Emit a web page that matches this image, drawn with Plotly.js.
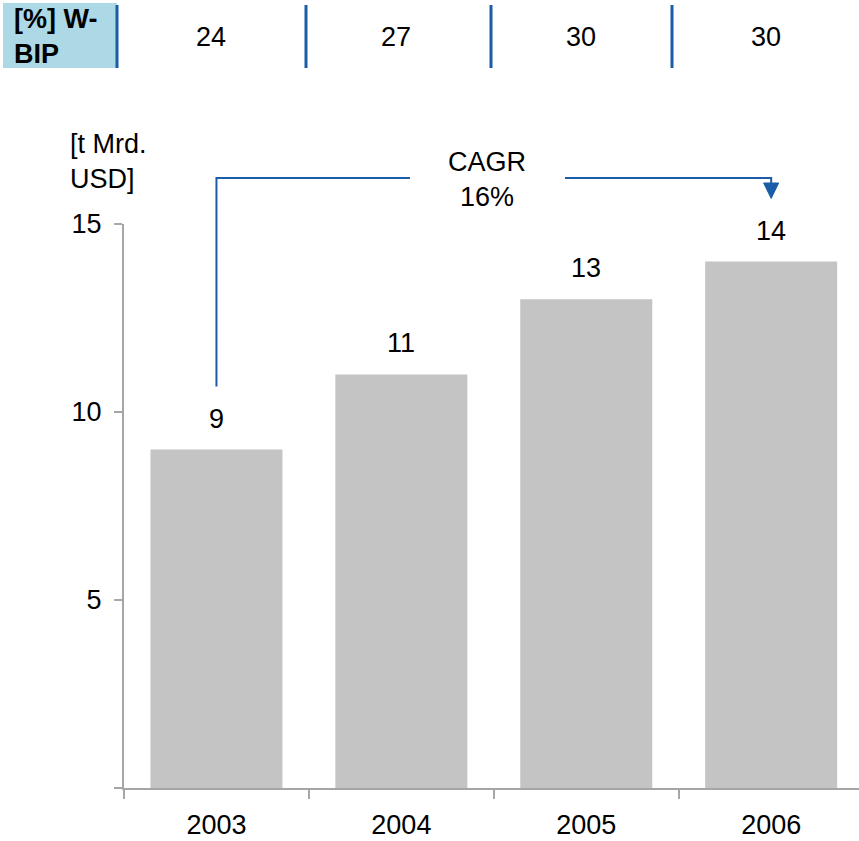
<!DOCTYPE html>
<html>
<head>
<meta charset="utf-8">
<script src="https://cdn.plot.ly/plotly-3.0.1.min.js"></script>
<style>html,body{margin:0;padding:0;background:#fff;}#chart{width:859px;height:841px;}</style>
</head>
<body>
<div id="chart"></div>
<script>
// ---- data ----
const years = ['2003', '2004', '2005', '2006'];
const values = [9, 11, 13, 14];
const valueLabels = ['9', '11', '13', '14'];
const shareOfGdp = ['24', '27', '30', '30'];
const shareLabel = '[%] W-<br>BIP';
const yTickVals = [0, 5, 10, 15];
const yTickText = ['', '5', '10', '15'];
const unitLabel = '[t Mrd.<br>USD]';
const cagrLabel = 'CAGR<br>16%';

// ---- layout helpers ----
const W = 859, H = 841;
const M = {l: 124, r: 0, t: 224, b: 53};
const xRange = [-0.5, 3.475];
const yRange = [0, 15];
const plotW = W - M.l - M.r, plotH = H - M.t - M.b;
const px = x => (x - M.l) / plotW;            // pixel -> paper x
const py = y => (H - M.b - y) / plotH;         // pixel -> paper y
const dx = i => (i - xRange[0]) / (xRange[1] - xRange[0]); // category index -> paper x
const dy = v => (v - yRange[0]) / (yRange[1] - yRange[0]); // value -> paper y

const FONT = 'Liberation Sans, Arial, sans-serif';
const FS = 27;
const BLUE = '#1a5ca8';
const GRAY = '#a6a6a6';

const shapes = [];
const annotations = [];

// Top row: header box
shapes.push({type: 'rect', xref: 'paper', yref: 'paper',
  x0: px(3), x1: px(117), y0: py(68), y1: py(3),
  fillcolor: '#add8e6', line: {width: 0}, layer: 'below'});
annotations.push({xref: 'paper', yref: 'paper', x: px(12), y: py(36),
  xanchor: 'left', yanchor: 'middle', align: 'left', showarrow: false,
  text: '<b>' + shareLabel + '</b>', font: {family: FONT, size: FS, color: '#000'}});
// separators
[117, 306, 491, 672].forEach(xp => {
  shapes.push({type: 'line', xref: 'paper', yref: 'paper',
    x0: px(xp), x1: px(xp), y0: py(68), y1: py(5),
    line: {color: BLUE, width: 3}});
});
// values in top row
years.forEach((yr, i) => {
  annotations.push({xref: 'x', yref: 'paper', x: i, y: py(37), xshift: -5,
    xanchor: 'center', yanchor: 'middle', showarrow: false,
    text: shareOfGdp[i], font: {family: FONT, size: FS, color: '#000'}});
});

// bar value labels
years.forEach((yr, i) => {
  annotations.push({xref: 'x', yref: 'y', x: i, y: values[i], yshift: 14,
    xanchor: 'center', yanchor: 'bottom', showarrow: false,
    text: valueLabels[i], font: {family: FONT, size: FS, color: '#000'}});
});

// unit label
annotations.push({xref: 'paper', yref: 'paper', x: px(68), y: py(161),
  xanchor: 'left', yanchor: 'middle', align: 'left', showarrow: false,
  text: unitLabel, font: {family: FONT, size: FS, color: '#000'}});

// CAGR bracket
const off = 1.68;
const lineY = py(178);
const first = 0, last = years.length - 1;
shapes.push({type: 'path', xref: 'paper', yref: 'paper',
  path: `M ${dx(first)} ${dy(values[first] + off)} L ${dx(first)} ${lineY} L ${px(410)} ${lineY}`,
  line: {color: BLUE, width: 2}});
shapes.push({type: 'path', xref: 'paper', yref: 'paper',
  path: `M ${px(565)} ${lineY} L ${dx(last)} ${lineY} L ${dx(last)} ${py(184)}`,
  line: {color: BLUE, width: 2}});
const tipY = dy(values[last] + off);
const hw = 7.5 / plotW;
shapes.push({type: 'path', xref: 'paper', yref: 'paper',
  path: `M ${dx(last) - hw} ${py(183)} L ${dx(last) + hw} ${py(183)} L ${dx(last)} ${tipY} Z`,
  fillcolor: BLUE, line: {color: BLUE, width: 1}});
annotations.push({xref: 'paper', yref: 'paper', x: px(487), y: py(179),
  xanchor: 'center', yanchor: 'middle', showarrow: false,
  text: cagrLabel, font: {family: FONT, size: FS, color: '#000'}});

const trace = {
  type: 'bar', x: years, y: values, width: 0.714,
  marker: {color: '#c4c4c4', line: {width: 0}},
  hoverinfo: 'none'
};

const layout = {
  width: W, height: H,
  margin: M,
  paper_bgcolor: '#fff', plot_bgcolor: '#fff',
  showlegend: false,
  font: {family: FONT, size: FS, color: '#000'},
  xaxis: {
    type: 'category', range: xRange, autorange: false,
    showline: true, linecolor: GRAY, linewidth: 2,
    ticks: 'outside', tickson: 'boundaries', ticklen: 9, tickwidth: 2, tickcolor: GRAY,
    showgrid: false, zeroline: false, ticklabelstandoff: 12,
    tickfont: {family: FONT, size: FS, color: '#000'}
  },
  yaxis: {
    range: yRange, autorange: false,
    showline: true, linecolor: GRAY, linewidth: 2,
    ticks: 'outside', ticklen: 8, tickwidth: 2, tickcolor: GRAY,
    tickvals: yTickVals, ticktext: yTickText,
    showgrid: false, zeroline: false, ticklabelstandoff: 7,
    tickfont: {family: FONT, size: FS, color: '#000'}
  },
  shapes: shapes,
  annotations: annotations
};

Plotly.newPlot('chart', [trace], layout, {staticPlot: true, displayModeBar: false});
</script>
</body>
</html>
